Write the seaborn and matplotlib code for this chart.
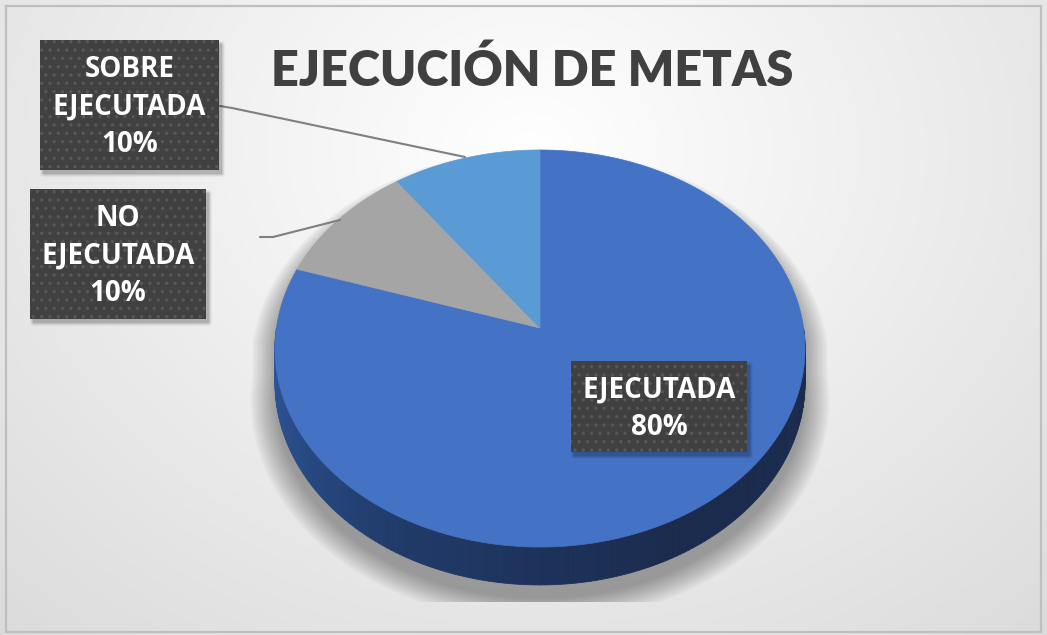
import numpy as np
import matplotlib.pyplot as plt
import matplotlib.patches as mpatches
import seaborn as sns
from matplotlib.colors import to_rgb

sns.set_style("white")
plt.rcParams['font.family'] = ['Lato', 'DejaVu Sans']
plt.rcParams['hatch.linewidth'] = 1.2

titulo = "EJECUCIÓN DE METAS"
categorias = ["EJECUTADA", "NO EJECUTADA", "SOBRE EJECUTADA"]
valores = [80, 10, 10]
colores = sns.color_palette(["#4472C4", "#A5A5A5", "#5B9BD5"])

W, H = 1047, 635
# geometria del pastel 3D (perspectiva simple)
CX, CY = 540, 328
A, B, K = 263.6, 196.4, 0.1033
DZ = 34


def proj(t, r=1.0, dz=0.0):
    t = np.radians(t)
    u = r * np.cos(t)
    w = r * np.sin(t)
    d = 1 + K * w
    return CX + A * u / d, CY - B * w / d + dz / d


fig = plt.figure(figsize=(W / 100, H / 100), dpi=100)
ax = fig.add_axes([0, 0, 1, 1])
ax.set_xlim(0, W)
ax.set_ylim(H, 0)
ax.axis('off')

# fondo con degradado radial
yy, xx = np.mgrid[0:H, 0:W]
dist = np.sqrt(((xx - 530) / 1.2) ** 2 + (yy - 150) ** 2)
fondo = 1.0 - 0.15 * np.clip(dist / 700, 0, 1)
ax.imshow(np.dstack([fondo] * 3), extent=(0, W, H, 0), zorder=0)
ax.add_patch(mpatches.Rectangle((6, 6), W - 12, H - 9, fill=False,
                                edgecolor='#bfbfbf', lw=1.6, zorder=1))

# sombra bajo el pastel
clip = mpatches.Rectangle((0, 0), W, 602, transform=ax.transData)
tt_back = np.linspace(0, 180, 120)
tt_front = np.linspace(180, 360, 120)
for s in np.linspace(1.0, 1.09, 12):
    xb, yb = proj(tt_back, s)
    xf, yf = proj(tt_front, s, DZ)
    poly = ax.fill(np.r_[xb, xf], np.r_[yb, yf] + 14, color='black',
                   alpha=0.032, lw=0, zorder=2)
    poly[0].set_clip_path(clip)


# lateral del pastel (solo la mitad frontal se ve)
def color_lado(t):
    f = (t - 180) / 180
    c0, c1, c2 = map(np.array, map(to_rgb, ['#3059a0', '#203a68', '#1b2b4e']))
    if f < 0.35:
        return c0 + (c1 - c0) * f / 0.35
    return c1 + (c2 - c1) * min(1, (f - 0.35) / 0.3)


tt = np.linspace(180, 360, 181)
for t0, t1 in zip(tt[:-1], tt[1:]):
    x0, y0 = proj(t0)
    x1, y1 = proj(t1)
    x2, y2 = proj(t1, dz=DZ)
    x3, y3 = proj(t0, dz=DZ)
    c = color_lado((t0 + t1) / 2)
    ax.fill([x0, x1, x2, x3], [y0, y1, y2, y3], color=c, ec=c, lw=0.6, zorder=3)

# caras superiores, en sentido horario desde las 12
total = sum(valores)
inicio = 90.0
for cat, v, col in zip(categorias, valores, colores):
    fin = inicio - 360.0 * v / total
    ang = np.linspace(inicio, fin, 200)
    xa, ya = proj(ang)
    ax.fill(np.r_[CX, xa], np.r_[CY, ya], color=col, ec=col, lw=0.5, zorder=4)
    inicio = fin


def caja(x0, y0, x1, y1, texto):
    for i, a in enumerate([0.10, 0.08, 0.06, 0.04]):
        ax.add_patch(mpatches.FancyBboxPatch(
            (x0 + 3 - i, y0 + 4 - i), x1 - x0 + 2 * i, y1 - y0 + 2 * i,
            boxstyle="round,pad=0,rounding_size=%d" % (i + 1),
            fc='black', ec='none', alpha=a, zorder=6))
    ax.add_patch(mpatches.Rectangle((x0, y0), x1 - x0, y1 - y0, fc='#404040',
                                    ec='#575757', lw=0, hatch='..', zorder=7))
    ax.text((x0 + x1) / 2, (y0 + y1) / 2 + 2, texto, ha='center', va='center',
            color='white', fontsize=20, fontweight='bold', linespacing=1.38,
            family=['Open Sans', 'DejaVu Sans'], zorder=8)


def etiqueta(i):
    pct = valores[i] / total * 100
    return categorias[i].replace(' ', '\n') + f"\n{pct:.0f}%"


# lineas guia
ax.plot([220, 232, 465], [106, 108, 157], color='#7f7f7f', lw=1.5, zorder=5)
ax.plot([260, 273, 340], [237, 237, 220], color='#7f7f7f', lw=1.5, zorder=5)

caja(571, 361, 747, 452, etiqueta(0))
caja(30, 189, 206, 319, etiqueta(1))
caja(40, 40, 219, 170, etiqueta(2))

ax.text(532, 86, titulo, ha='center', va='baseline', color='#404040',
        fontsize=35, fontweight='heavy', zorder=8)

fig.savefig('out.png', dpi=100)
